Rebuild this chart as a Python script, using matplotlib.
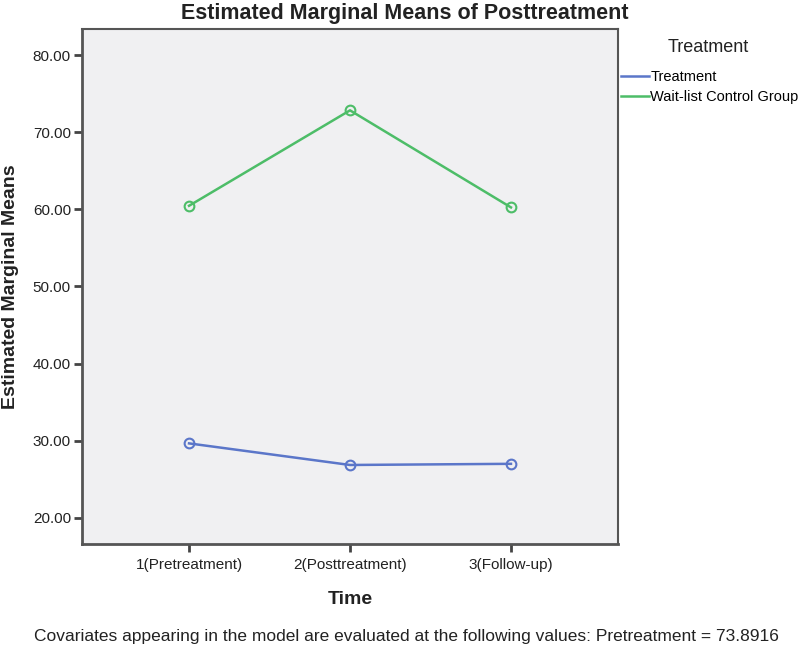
import matplotlib
matplotlib.use("Agg")
import matplotlib.pyplot as plt
from matplotlib.lines import Line2D

plt.rcParams['font.family'] = ['Liberation Sans', 'DejaVu Sans']

time_labels = ['1(Pretreatment)', '2(Posttreatment)', '3(Follow-up)']
time_pos = [1, 2, 3]
treatment = [29.65, 26.85, 27.0]
waitlist = [60.47, 72.85, 60.26]
group_names = ['Treatment', 'Wait-list Control Group']
yticks = [20, 30, 40, 50, 60, 70, 80]

fig = plt.figure(figsize=(8, 6.51), dpi=100)
ax = fig.add_axes([82 / 800, 1 - 544 / 651, (618 - 82) / 800, (544 - 29) / 651])
ax.set_facecolor('#f0f0f2')

blue = '#5b76c9'
green = '#4dbd68'
ax.plot(time_pos, treatment, color=blue, lw=1.8, marker='o', ms=7,
        mfc='none', mec=blue, mew=1.5)
ax.plot(time_pos, waitlist, color=green, lw=1.8, marker='o', ms=7,
        mfc='none', mec=green, mew=1.5)

ax.set_xlim(0.335, 3.665)
ax.set_ylim(16.6, 83.4)
ax.set_xticks(time_pos)
ax.set_xticklabels(time_labels)
ax.set_yticks(yticks)
ax.set_yticklabels(['%.2f' % v for v in yticks])
ax.tick_params(axis='both', direction='out', length=6, width=2,
               color='#444444', labelsize=11, labelcolor='#222222', pad=2)
ax.tick_params(axis='x', pad=4)

for s in ax.spines.values():
    s.set_color('#555555')
    s.set_linewidth(1.5)
ax.spines['left'].set_linewidth(2)
ax.spines['bottom'].set_linewidth(2)

fig.text(405 / 800, 1 - 14 / 651, 'Estimated Marginal Means of Posttreatment',
         ha='center', va='center', fontsize=15.5, fontweight='bold',
         color='#222222')
ax.set_ylabel('Estimated Marginal Means', fontsize=14, fontweight='bold',
              color='#222222', labelpad=10)
ax.set_xlabel('Time', fontsize=14, fontweight='bold', color='#222222',
              labelpad=14)

# legend shows lines only, no markers
handles = [Line2D([], [], color=blue, lw=1.8),
           Line2D([], [], color=green, lw=1.8)]
fig.legend(handles, group_names, loc='upper left',
           bbox_to_anchor=(621 / 800, 1 - 70 / 651),
           frameon=False, fontsize=10.5, handlelength=1.9,
           handletextpad=0.1, labelspacing=0.4, borderaxespad=0,
           borderpad=0)
fig.text(708 / 800, 1 - 47 / 651, 'Treatment', ha='center', va='center',
         fontsize=13, color='#222222')

fig.text(406 / 800, 1 - 637 / 651,
         'Covariates appearing in the model are evaluated at the following '
         'values: Pretreatment = 73.8916',
         ha='center', va='center', fontsize=12.5, color='#222222')

fig.savefig('out.png', dpi=100)
